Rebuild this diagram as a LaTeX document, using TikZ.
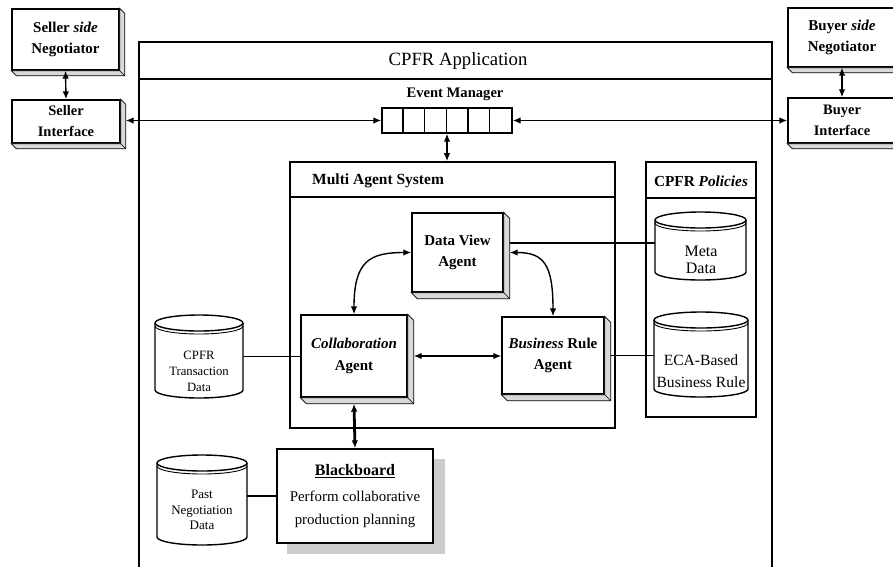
\documentclass[tikz,border=0pt]{standalone}
\usepackage{fontspec}
\setmainfont{Liberation Serif}
\usetikzlibrary{arrows.meta,calc,shadows}
\newcommand\myslab[2]{%
  \draw[line width=0.8pt, fill=gray!30] (#1.north east) -- ([shift={(#2,#2)}]#1.north east) -- ([shift={(#2,#2)}]#1.south east) -- ([shift={(#2,#2)}]#1.south west) -- (#1.south west) -- (#1.south east) -- cycle;
  \draw[line width=0.6pt] (#1.south east) -- ([shift={(#2,#2)}]#1.south east);}
\newcommand\mycyl[4]{%
  \pgfmathsetmacro\cylrx{(#3-#1)/2}%
  \draw[line width=1.4pt, fill=white] (#1,#2+8) -- (#1,#4-8) arc[start angle=180,end angle=0,x radius=\cylrx,y radius=8] -- (#3,#2+8) arc[start angle=0,end angle=-180,x radius=\cylrx,y radius=8] -- cycle;
  \draw[line width=1.4pt] (#1,#2+8) arc[start angle=180,end angle=0,x radius=\cylrx,y radius=8];
  \draw[line width=0.9pt] (#1,#2+11) arc[start angle=180,end angle=0,x radius=\cylrx,y radius=8];}
\begin{document}
\begin{tikzpicture}[x=1pt,y=-1pt,
  box/.style={draw, fill=white, line width=1.4pt, inner sep=0pt, align=center},
  framebox/.style={draw, line width=1.2pt, inner sep=0pt},
  hold/.style={inner sep=0pt},
  conn/.style={line width=1.4pt},
  arr/.style={conn, {Latex[length=8pt,width=6.5pt]}-{Latex[length=8pt,width=6.5pt]}},
  boxfont/.style={font=\fontsize{15}{21.5}\selectfont\bfseries},
  cyltext/.style={align=center, inner sep=0pt},
]
\clip (0,0) rectangle (893,566);
\fill[white] (0,0) rectangle (893,566);

% frames
\node[framebox, minimum width=633pt, minimum height=530pt] (app) at (455.5,307) {};
\draw[line width=1.2pt] (app.west |- 0,79) -- (app.east |- 0,79);
\node (apptitle) at (458,61) {\fontsize{18.7}{20}\selectfont CPFR Application};

\node[framebox, line width=1.6pt, minimum width=325pt, minimum height=266pt] (mas) at (452.5,295) {};
\draw[line width=1.3pt] (mas.west |- 0,197) -- (mas.east |- 0,197);
\node[anchor=west, inner sep=0pt] (mastitle) at (312,181) {\fontsize{15.5}{17}\selectfont\bfseries Multi Agent System};

\node[framebox, minimum width=110pt, minimum height=255pt] (pol) at (701,289.5) {};
\draw[line width=1.2pt] (pol.west |- 0,198) -- (pol.east |- 0,198);
\node (poltitle) at (701,181) {\fontsize{15.3}{17}\selectfont\bfseries CPFR \textit{Policies}};

% negotiators and interfaces
\node[box, boxfont, minimum width=107pt, minimum height=61pt] (sellneg) at (65.5,39.5) {Seller \textit{side}\\Negotiator};
\myslab{sellneg}{5}
\node[box, font=\fontsize{14.5}{21}\selectfont\bfseries, minimum width=108pt, minimum height=43pt] (sellint) at (66,121.5) {Seller\\Interface};
\myslab{sellint}{5}
\node[box, boxfont, minimum width=108pt, minimum height=59pt] (buyneg) at (842,37.5) {Buyer \textit{side}\\Negotiator};
\myslab{buyneg}{5}
\node[box, font=\fontsize{14.5}{21}\selectfont\bfseries, minimum width=108pt, minimum height=45pt] (buyint) at (842,120.5) {Buyer\\Interface};
\myslab{buyint}{5}

% event manager
\node (emtitle) at (455,94) {\fontsize{14.6}{16}\selectfont\bfseries Event Manager};
\node[draw, line width=1.4pt, minimum width=130pt, minimum height=25pt, inner sep=0pt] (queue) at (447,120.5) {};
\foreach \i in {1,...,5} \draw[line width=1.2pt] ([xshift={\i*130/6}]queue.north west) -- ([xshift={\i*130/6}]queue.south west);

% agents
\node[box, boxfont, minimum width=91pt, minimum height=79pt] (dva) at (457.5,252.5) {Data View\\Agent};
\myslab{dva}{6}
\node[box, boxfont, minimum width=106pt, minimum height=82pt] (collab) at (354,356) {\textit{Collaboration}\\Agent};
\myslab{collab}{6}
\node[box, boxfont, minimum width=102pt, minimum height=77pt] (bra) at (553,355.5) {\textit{Business} Rule\\Agent};
\myslab{bra}{6}

% databases
\mycyl{655}{212}{746}{280}
\node[hold, minimum width=91pt, minimum height=68pt] (meta) at (700.5,246) {};
\node[cyltext, font=\fontsize{16}{17}\selectfont] (metatext) at (701,260) {Meta\\Data};

\mycyl{654}{312}{748}{397}
\node[hold, minimum width=94pt, minimum height=85pt] (eca) at (701,354.5) {};
\node[cyltext, font=\fontsize{15.6}{22}\selectfont] (ecatext) at (701,371) {ECA-Based\\Business Rule};

\mycyl{155}{315}{243}{398}
\node[hold, minimum width=88pt, minimum height=83pt] (trans) at (199,356.5) {};
\node[cyltext, font=\fontsize{12.7}{16}\selectfont] (transtext) at (199,371) {CPFR\\Transaction\\Data};

\mycyl{157}{455}{247}{545}
\node[hold, minimum width=90pt, minimum height=90pt] (past) at (202,500) {};
\node[cyltext, font=\fontsize{13}{15.5}\selectfont] (pasttext) at (202,510) {Past\\Negotiation\\Data};

% blackboard
\fill[gray!40] (287,459) rectangle (445,554);
\node[box, font=\fontsize{14.9}{23}\selectfont, minimum width=156pt, minimum height=94pt] (bb) at (355,496)
  {\textbf{\fontsize{16}{18}\selectfont\underline{Blackboard}}\\[3pt]Perform collaborative\\production planning};

% connectors
\draw[arr] (sellneg.south) -- (sellint.north);
\draw[arr] (buyneg.south) -- (buyint.north);
\draw[arr] (queue.west) -- ($(queue.west -| sellint.east)+(5,0)$);
\draw[arr] (queue.east) -- (queue.east -| buyint.west);
\draw[arr] (queue.south) -- (queue.south |- mas.north);

\draw[arr] (collab.north) .. controls ($(collab.north)+(0,-53)$) and ($(dva.west)+(-42,0)$) .. (dva.west);
\draw[arr] ($(dva.east)+(6,0)$) .. controls ($(dva.east)+(40,0)$) and ($(bra.north)+(0,-52)$) .. (bra.north);
\coordinate (dvm) at ($(dva.east)+(6,-9.5)$);
\draw[conn] (dvm) -- (dvm -| meta.west);
\draw[arr] ($(collab.east)+(6,0)$) -- (collab.east -| bra.west);
\draw[conn] ($(bra.east)+(6,0)$) -- (bra.east -| eca.west);
\draw[conn] (trans.east) -- (trans.east -| collab.west);
\draw[arr, line width=2.8pt] ($(collab.south)+(0,6)$) -- (bb.north);
\draw[conn] (bb.west) -- (bb.west -| past.east);
\end{tikzpicture}
\end{document}
